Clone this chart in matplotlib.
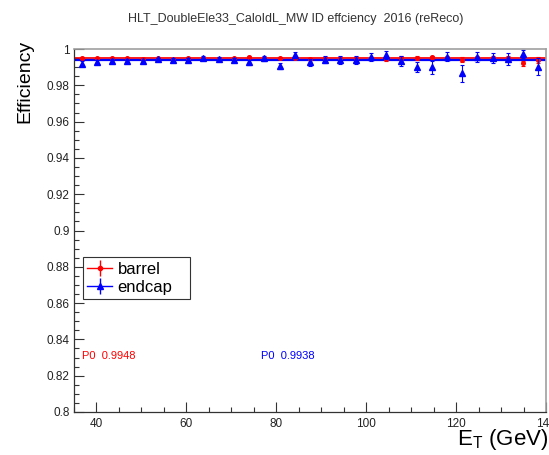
import numpy as np
import matplotlib
matplotlib.use('Agg')
import matplotlib.pyplot as plt
from matplotlib.lines import Line2D
from matplotlib.ticker import MultipleLocator, FuncFormatter
from matplotlib.legend_handler import HandlerTuple

plt.rcParams['font.family'] = ['Liberation Sans', 'DejaVu Sans']
plt.rcParams['mathtext.fontset'] = 'custom'
plt.rcParams['mathtext.rm'] = 'Liberation Sans'

# bin centres (31 bins between 35 and 140 GeV)
et = [36.69, 40.08, 43.47, 46.85, 50.24, 53.63, 57.02, 60.40, 63.79, 67.18,
      70.56, 73.95, 77.34, 80.73, 84.11, 87.50, 90.89, 94.27, 97.66, 101.05,
      104.44, 107.82, 111.21, 114.60, 117.98, 121.37, 124.76, 128.15, 131.53, 134.92,
      138.31]

barrel_eff = [0.9950, 0.9948, 0.9950, 0.9949, 0.9947, 0.9950, 0.9942, 0.9950, 0.9948, 0.9943,
              0.9948, 0.9955, 0.9950, 0.9952, 0.9950, 0.9946, 0.9948, 0.9950, 0.9948, 0.9950,
              0.9945, 0.9950, 0.9950, 0.9954, 0.9950, 0.9942, 0.9950, 0.9950, 0.9948, 0.9922,
              0.9940]
barrel_err = [0.0004, 0.0003, 0.0003, 0.0003, 0.0003, 0.0003, 0.0003, 0.0004, 0.0004, 0.0004,
              0.0005, 0.0005, 0.0005, 0.0006, 0.0006, 0.0006, 0.0007, 0.0007, 0.0008, 0.0008,
              0.0009, 0.0009, 0.0010, 0.0010, 0.0011, 0.0012, 0.0012, 0.0013, 0.0013, 0.0014,
              0.0016]

endcap_eff = [0.9920, 0.9927, 0.9936, 0.9936, 0.9932, 0.9945, 0.9941, 0.9940, 0.9950, 0.9945,
              0.9940, 0.9927, 0.9950, 0.9908, 0.9967, 0.9927, 0.9940, 0.9940, 0.9940, 0.9958,
              0.9967, 0.9936, 0.9899, 0.9900, 0.9958, 0.9866, 0.9954, 0.9950, 0.9945, 0.9972,
              0.9903]
endcap_err = [0.0015, 0.0010, 0.0008, 0.0007, 0.0007, 0.0007, 0.0008, 0.0009, 0.0010, 0.0011,
              0.0012, 0.0013, 0.0014, 0.0016, 0.0017, 0.0018, 0.0019, 0.0020, 0.0021, 0.0022,
              0.0024, 0.0028, 0.0028, 0.0035, 0.0025, 0.0046, 0.0028, 0.0028, 0.0033, 0.0023,
              0.0046]

p0_barrel = 0.9948
p0_barrel_err = 0.0008
p0_endcap = 0.9938

fig = plt.figure(figsize=(5.49, 4.55), dpi=100)
ax = fig.add_axes([74/549, 1-412/455, 472/549, 363/455])

ax.set_xlim(35, 140)
ax.set_ylim(0.8, 1.0)

# fit results
ax.fill_between([35, 140], p0_barrel - p0_barrel_err, p0_barrel + p0_barrel_err,
                color='#ff9a9a', alpha=0.6, lw=0, zorder=1)
ax.axhline(p0_barrel, color='red', lw=1.2, zorder=2)
ax.axhline(p0_endcap, color='blue', lw=1.6, zorder=2)

ax.errorbar(et, barrel_eff, yerr=barrel_err, fmt='o', color='red', ms=2.6,
            elinewidth=0.8, capsize=1.5, capthick=0.8, zorder=3)
ax.errorbar(et, endcap_eff, yerr=endcap_err, fmt='^', color='blue', ms=4.3,
            elinewidth=0.8, capsize=1.5, capthick=0.8, zorder=4)

ax.text(36.7, 0.831, 'P0  %.4f' % p0_barrel, color='red', fontsize=8, va='center')
ax.text(76.7, 0.831, 'P0  %.4f' % p0_endcap, color='blue', fontsize=8, va='center')

# ticks in ROOT style
ax.xaxis.set_major_locator(MultipleLocator(20))
ax.xaxis.set_minor_locator(MultipleLocator(5))
ax.yaxis.set_major_locator(MultipleLocator(0.02))
ax.yaxis.set_minor_locator(MultipleLocator(0.005))
ax.yaxis.set_major_formatter(FuncFormatter(lambda v, p: '%g' % round(v, 3)))
ax.tick_params(which='both', direction='in', top=False, right=False, labelsize=8.5,
               color='#333333', labelcolor='#222222')
ax.tick_params(which='major', length=7, width=0.8)
ax.tick_params(which='minor', length=3.5, width=0.8)
ax.tick_params(axis='x', pad=4)
ax.tick_params(axis='y', pad=3)
for s in ['top', 'right']:
    ax.spines[s].set_color('#a0a0a0')
    ax.spines[s].set_linewidth(1.2)
for s in ['left', 'bottom']:
    ax.spines[s].set_color('#333333')
    ax.spines[s].set_linewidth(0.9)

# legend
h_bar = (Line2D([], [], color='red', lw=1, marker='|', ms=11, mew=1),
         Line2D([], [], color='red', lw=0, marker='o', ms=3))
h_end = (Line2D([], [], color='blue', lw=1, marker='|', ms=11, mew=1),
         Line2D([], [], color='blue', lw=0, marker='^', ms=4))
leg = ax.legend([h_bar, h_end], ['barrel', 'endcap'],
                handler_map={tuple: HandlerTuple(ndivide=1)},
                loc='lower left', bbox_to_anchor=(0.0197, 0.311, 0.226, 0.121),
                mode='expand', borderaxespad=0,
                fontsize=12, frameon=True, fancybox=False, handlelength=1.5,
                handletextpad=0.3, borderpad=0.25, labelspacing=0.2, framealpha=1)
leg.get_frame().set_edgecolor('#333333')
leg.get_frame().set_linewidth(0.8)

fig.text(296/549, 1-19/455, 'HLT_DoubleEle33_CaloIdL_MW ID effciency  2016 (reReco)',
         ha='center', va='center', fontsize=9, color='#333333')
fig.text(25/549, 1-40/455, 'Efficiency', rotation=90, ha='center', va='top', fontsize=14)
fig.text(548/549, 1-440/455, r'E$_\mathrm{T}$ (GeV)', ha='right', va='center', fontsize=16)

fig.savefig('out.png', dpi=100)
